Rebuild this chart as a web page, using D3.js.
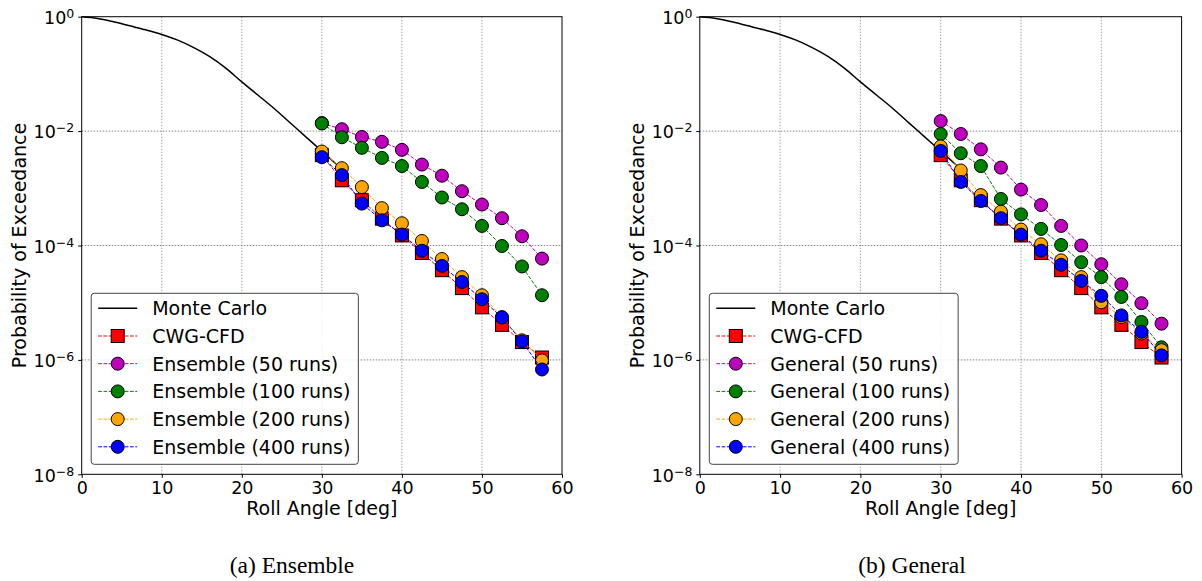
<!DOCTYPE html>
<html>
<head>
<meta charset="utf-8">
<script src="https://cdn.jsdelivr.net/npm/d3@7"></script>
<style>
  html, body { margin: 0; padding: 0; background: #fff; }
  svg { display: block; }
  text { font-family: "DejaVu Sans", sans-serif; fill: #000; }
  .caption { font-family: "Liberation Serif", "Times New Roman", serif; }
</style>
</head>
<body>
<svg id="chart" width="1202" height="581"></svg>
<script>
// Roll angles at which the CFD-based estimates are evaluated
const rollAngles = [30, 32.5, 35, 37.5, 40, 42.5, 45, 47.5, 50, 52.5, 55, 57.5];

// Monte Carlo reference curve
const mcAngles = [0, 2, 4, 6, 8, 10, 12, 14, 16, 18, 20, 22, 24, 26, 28, 30, 32];
const mcProb = [1, 0.933, 0.813, 0.692, 0.589, 0.490, 0.389, 0.288, 0.200, 0.126,
  0.0724, 0.0427, 0.0251, 0.0141, 0.00794, 0.00447, 0.00251];

// CWG-CFD
const cwgProb = [3.8e-3, 1.38e-3, 6.2e-4, 2.95e-4, 1.5e-4, 7.4e-5, 3.7e-5, 1.8e-5,
  8.3e-6, 4.1e-6, 2.05e-6, 1.1e-6];

// (a) Ensemble
const ens50 = [1.38e-2, 1.08e-2, 7.9e-3, 6.5e-3, 4.7e-3, 2.6e-3, 1.66e-3, 8.9e-4,
  5.2e-4, 3.0e-4, 1.45e-4, 5.9e-5];
const ens100 = [1.36e-2, 7.8e-3, 5.1e-3, 3.4e-3, 2.45e-3, 1.29e-3, 6.9e-4, 4.3e-4,
  2.2e-4, 9.8e-5, 4.3e-5, 1.35e-5];
const ens200 = [4.4e-3, 2.25e-3, 1.05e-3, 4.5e-4, 2.45e-4, 1.2e-4, 5.8e-5, 2.8e-5,
  1.35e-5, 5.6e-6, 2.2e-6, 9.8e-7];
const ens400 = [3.5e-3, 1.7e-3, 5.4e-4, 2.75e-4, 1.55e-4, 8.1e-5, 4.4e-5, 2.3e-5,
  1.15e-5, 5.5e-6, 2.1e-6, 6.8e-7];

// (b) General
const gen50 = [1.5e-2, 8.9e-3, 4.8e-3, 2.3e-3, 9.5e-4, 5.1e-4, 2.2e-4, 1.0e-4,
  4.7e-5, 2.1e-5, 9.8e-6, 4.3e-6];
const gen100 = [8.9e-3, 4.1e-3, 2.45e-3, 6.5e-4, 3.5e-4, 1.95e-4, 1.02e-4, 5.1e-5,
  2.8e-5, 1.26e-5, 4.6e-6, 1.66e-6];
const gen200 = [5.4e-3, 2.05e-3, 7.6e-4, 3.9e-4, 1.9e-4, 1.05e-4, 5.5e-5, 2.8e-5,
  1.02e-5, 5.6e-6, 2.9e-6, 1.48e-6];
const gen400 = [4.5e-3, 1.29e-3, 6.0e-4, 3.0e-4, 1.55e-4, 8.1e-5, 4.6e-5, 2.4e-5,
  1.32e-5, 6.0e-6, 3.1e-6, 1.2e-6];

// Axis ticks
const xTicks = [0, 10, 20, 30, 40, 50, 60];
const yTickExponents = [0, -2, -4, -6, -8];

const runLabels = ["50 runs", "100 runs", "200 runs", "400 runs"];
const runColors = ["#bf00bf", "#008000", "#ffa500", "#0000ff"];

const panels = [
  { name: "Ensemble", caption: "(a) Ensemble", series: [ens50, ens100, ens200, ens400],
    left: 81.7, right: 562, yLabelX: 25.5, captionX: 292 },
  { name: "General", caption: "(b) General", series: [gen50, gen100, gen200, gen400],
    left: 699.8, right: 1181.6, yLabelX: 643.6, captionX: 912 }
];

const plotTop = 16.7, plotBottom = 474.3;
const svg = d3.select("#chart");
const R = 6.5, SQ = 13;
const TICK_FONT = 17.5, LABEL_FONT = 19;

function drawMarker(g, type, color, cx, cy) {
  if (type === "square") {
    g.append("rect").attr("x", cx - SQ / 2).attr("y", cy - SQ / 2)
      .attr("width", SQ).attr("height", SQ)
      .attr("fill", color).attr("stroke", "#000").attr("stroke-width", 1);
  } else {
    g.append("circle").attr("cx", cx).attr("cy", cy).attr("r", R)
      .attr("fill", color).attr("stroke", "#000").attr("stroke-width", 1);
  }
}

panels.forEach(p => {
  const x = d3.scaleLinear().domain([0, 60]).range([p.left, p.right]);
  const y = d3.scaleLog().domain([1, 1e-8]).range([plotTop, plotBottom]);
  const g = svg.append("g");

  // grid
  g.append("g").selectAll("line").data(xTicks.slice(1, -1)).join("line")
    .attr("x1", d => x(d)).attr("x2", d => x(d)).attr("y1", plotTop).attr("y2", plotBottom)
    .attr("stroke", "#999").attr("stroke-width", 0.9).attr("stroke-dasharray", "1.5,1.5");
  g.append("g").selectAll("line").data(yTickExponents.slice(1, -1)).join("line")
    .attr("x1", p.left).attr("x2", p.right)
    .attr("y1", d => y(Math.pow(10, d))).attr("y2", d => y(Math.pow(10, d)))
    .attr("stroke", "#777").attr("stroke-width", 0.9).attr("stroke-dasharray", "1.5,1.5");

  // Monte Carlo curve
  const mc = mcAngles.map((a, i) => [a, mcProb[i]]);
  g.append("path").datum(mc)
    .attr("d", d3.line().x(d => x(d[0])).y(d => y(d[1])).curve(d3.curveMonotoneX))
    .attr("fill", "none").attr("stroke", "#000").attr("stroke-width", 1.5);

  // marker series: CWG-CFD first, then increasing run counts
  const all = [{ vals: cwgProb, color: "#ff0000", type: "square" }]
    .concat(p.series.map((s, i) => ({ vals: s, color: runColors[i], type: "circle" })));
  all.forEach(s => {
    const pts = rollAngles.map((a, i) => [a, s.vals[i]]);
    const sg = g.append("g");
    sg.append("path").datum(pts)
      .attr("d", d3.line().x(d => x(d[0])).y(d => y(d[1])))
      .attr("fill", "none").attr("stroke", s.color).attr("stroke-width", 1)
      .attr("stroke-dasharray", "3.7,1.6");
    pts.forEach(d => drawMarker(sg, s.type, s.color, x(d[0]), y(d[1])));
  });

  // frame
  g.append("rect").attr("x", p.left).attr("y", plotTop)
    .attr("width", p.right - p.left).attr("height", plotBottom - plotTop)
    .attr("fill", "none").attr("stroke", "#000").attr("stroke-width", 1);

  // x axis
  const xa = g.append("g").attr("transform", `translate(0,${plotBottom})`)
    .call(d3.axisBottom(x).tickValues(xTicks).tickSize(3.5).tickPadding(3.5).tickFormat(d3.format("d")));
  xa.select(".domain").remove();
  xa.selectAll("text").attr("font-size", TICK_FONT).attr("font-family", "DejaVu Sans");

  // y axis
  const ya = g.append("g").attr("transform", `translate(${p.left},0)`)
    .call(d3.axisLeft(y).tickValues(yTickExponents.map(e => Math.pow(10, e)))
      .tickSize(3.5).tickFormat(() => ""));
  ya.select(".domain").remove();
  yTickExponents.forEach(e => {
    const t = g.append("text").attr("x", p.left - 7.4).attr("y", y(Math.pow(10, e)) + 7.3)
      .attr("text-anchor", "end").attr("font-size", TICK_FONT);
    t.append("tspan").text("10");
    t.append("tspan").attr("dy", -6).attr("font-size", 12.5)
      .text(e === 0 ? "0" : "\u2212" + Math.abs(e));
  });

  // axis titles
  g.append("text").attr("x", (p.left + p.right) / 2).attr("y", 515)
    .attr("text-anchor", "middle").attr("font-size", LABEL_FONT).text("Roll Angle [deg]");
  g.append("text").attr("transform", `translate(${p.yLabelX},${(plotTop + plotBottom) / 2}) rotate(-90)`)
    .attr("text-anchor", "middle").attr("font-size", LABEL_FONT).text("Probability of Exceedance");

  // legend
  const lx = p.left + 9.5, ly = 293.3, rowH = 27.7, row0 = 308.3;
  const lg = g.append("g");
  const box = lg.append("rect").attr("x", lx).attr("y", ly).attr("height", 171)
    .attr("rx", 3).attr("fill", "#fff").attr("fill-opacity", 0.85)
    .attr("stroke", "#444").attr("stroke-width", 1);
  const entries = [{ label: "Monte Carlo", color: "#000", type: "line" },
    { label: "CWG-CFD", color: "#ff0000", type: "square" }]
    .concat(runLabels.map((r, i) => ({ label: `${p.name} (${r})`, color: runColors[i], type: "circle" })));
  let maxW = 0;
  entries.forEach((e, i) => {
    const cy = row0 + i * rowH;
    if (e.type === "line") {
      lg.append("line").attr("x1", lx + 7).attr("x2", lx + 46).attr("y1", cy).attr("y2", cy)
        .attr("stroke", "#000").attr("stroke-width", 1.5);
    } else {
      lg.append("line").attr("x1", lx + 7).attr("x2", lx + 46).attr("y1", cy).attr("y2", cy)
        .attr("stroke", e.color).attr("stroke-width", 1).attr("stroke-dasharray", "3.7,1.6");
      drawMarker(lg, e.type, e.color, lx + 26.5, cy);
    }
    const t = lg.append("text").attr("x", lx + 61).attr("y", cy + 7)
      .attr("font-size", LABEL_FONT).text(e.label);
    maxW = Math.max(maxW, t.node().getComputedTextLength());
  });
  box.attr("width", 61 + maxW + 8);

  // caption
  svg.append("text").attr("class", "caption").attr("x", p.captionX).attr("y", 573)
    .attr("text-anchor", "middle").attr("font-size", 23.5).text(p.caption);
});
</script>
</body>
</html>
